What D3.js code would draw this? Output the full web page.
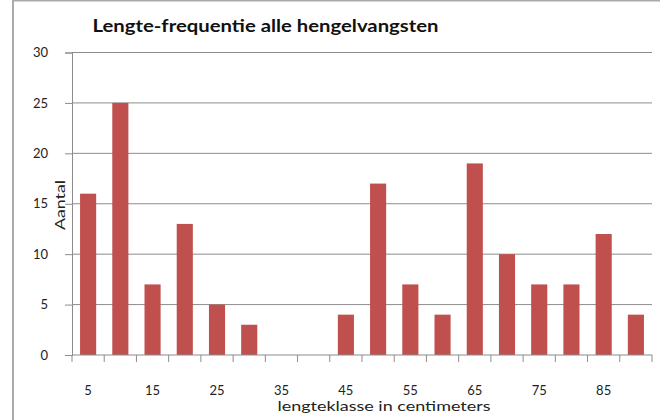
<!DOCTYPE html>
<html><head><meta charset="utf-8">
<script src="https://cdn.jsdelivr.net/npm/d3@7/dist/d3.min.js"></script>
<style>body{margin:0;background:#fff}svg{display:block}text{font-family:Lato,"Open Sans",sans-serif}</style>
</head><body><svg id="c" width="660" height="420"></svg>
<script>
const categories = [5,10,15,20,25,30,35,40,45,50,55,60,65,70,75,80,85,90];
const counts =     [16,25,7,13,5,3,0,0,4,17,7,4,19,10,7,7,12,4];
const yTicks = [0,5,10,15,20,25,30];
const xTickLabels = [5,15,25,35,45,55,65,75,85];
const title = "Lengte-frequentie alle hengelvangsten";
const xTitle = "lengteklasse in centimeters";
const yTitle = "Aantal";

const svg = d3.select("#c");
const L = 72, R = 652, T = 52.5, B = 355;
// outer frame
svg.append("rect").attr("x",13).attr("y",0.5).attr("width",700).attr("height",500)
  .attr("fill","#fff").attr("stroke","#aaa").attr("stroke-width",2);

const x = d3.scaleBand().domain(categories).range([L,R]).paddingInner(0.5).paddingOuter(0.25);
const y = d3.scaleLinear().domain([0,30]).range([B,T]);

// gridlines
svg.append("g").selectAll("line").data(yTicks.filter(d=>d>0)).join("line")
  .attr("x1",L).attr("x2",R).attr("y1",d=>y(d)).attr("y2",d=>y(d))
  .attr("stroke","#8c8c8c").attr("stroke-width",1);

// bars
svg.append("g").selectAll("rect").data(categories).join("rect")
  .attr("x",(d)=>x(d)).attr("width",x.bandwidth())
  .attr("y",(d,i)=>y(counts[i])).attr("height",(d,i)=>B-y(counts[i]))
  .attr("fill","#C0504D");

// y axis
const yAxis = svg.append("g").attr("transform",`translate(${L},0)`)
  .call(d3.axisLeft(y).tickValues(yTicks).tickSize(7).tickPadding(17));
yAxis.select(".domain").attr("stroke","#8c8c8c");
yAxis.selectAll(".tick line").attr("stroke","#8c8c8c");
yAxis.selectAll("text").attr("font-size",13).attr("fill","#222").attr("font-family","Lato");

// x axis line and boundary ticks
const step = x.step();
const bounds = categories.map(d=>x(d)-step*0.25).concat([R]);
svg.append("line").attr("x1",L).attr("x2",R).attr("y1",B).attr("y2",B).attr("stroke","#8c8c8c");
svg.append("g").selectAll("line").data(bounds).join("line")
  .attr("x1",d=>d).attr("x2",d=>d).attr("y1",B).attr("y2",B+7).attr("stroke","#8c8c8c");
svg.append("g").selectAll("text").data(xTickLabels).join("text")
  .attr("x",d=>x(d)+x.bandwidth()/2).attr("y",394.5).attr("text-anchor","middle")
  .attr("font-size",13).attr("fill","#222").text(d=>d);

// titles
svg.append("text").attr("x",92.5).attr("y",32).attr("font-size",16.5).attr("font-weight","bold")
  .attr("fill","#111").attr("textLength",346).attr("lengthAdjust","spacingAndGlyphs").text(title);
svg.append("text").attr("x",384).attr("y",411).attr("text-anchor","middle").attr("font-size",14)
  .attr("fill","#222").attr("textLength",213).attr("lengthAdjust","spacingAndGlyphs").text(xTitle);
svg.append("text").attr("transform","translate(65,205) rotate(-90)").attr("text-anchor","middle")
  .attr("font-size",14).attr("fill","#222").attr("textLength",50).attr("lengthAdjust","spacingAndGlyphs").text(yTitle);
</script></body></html>
